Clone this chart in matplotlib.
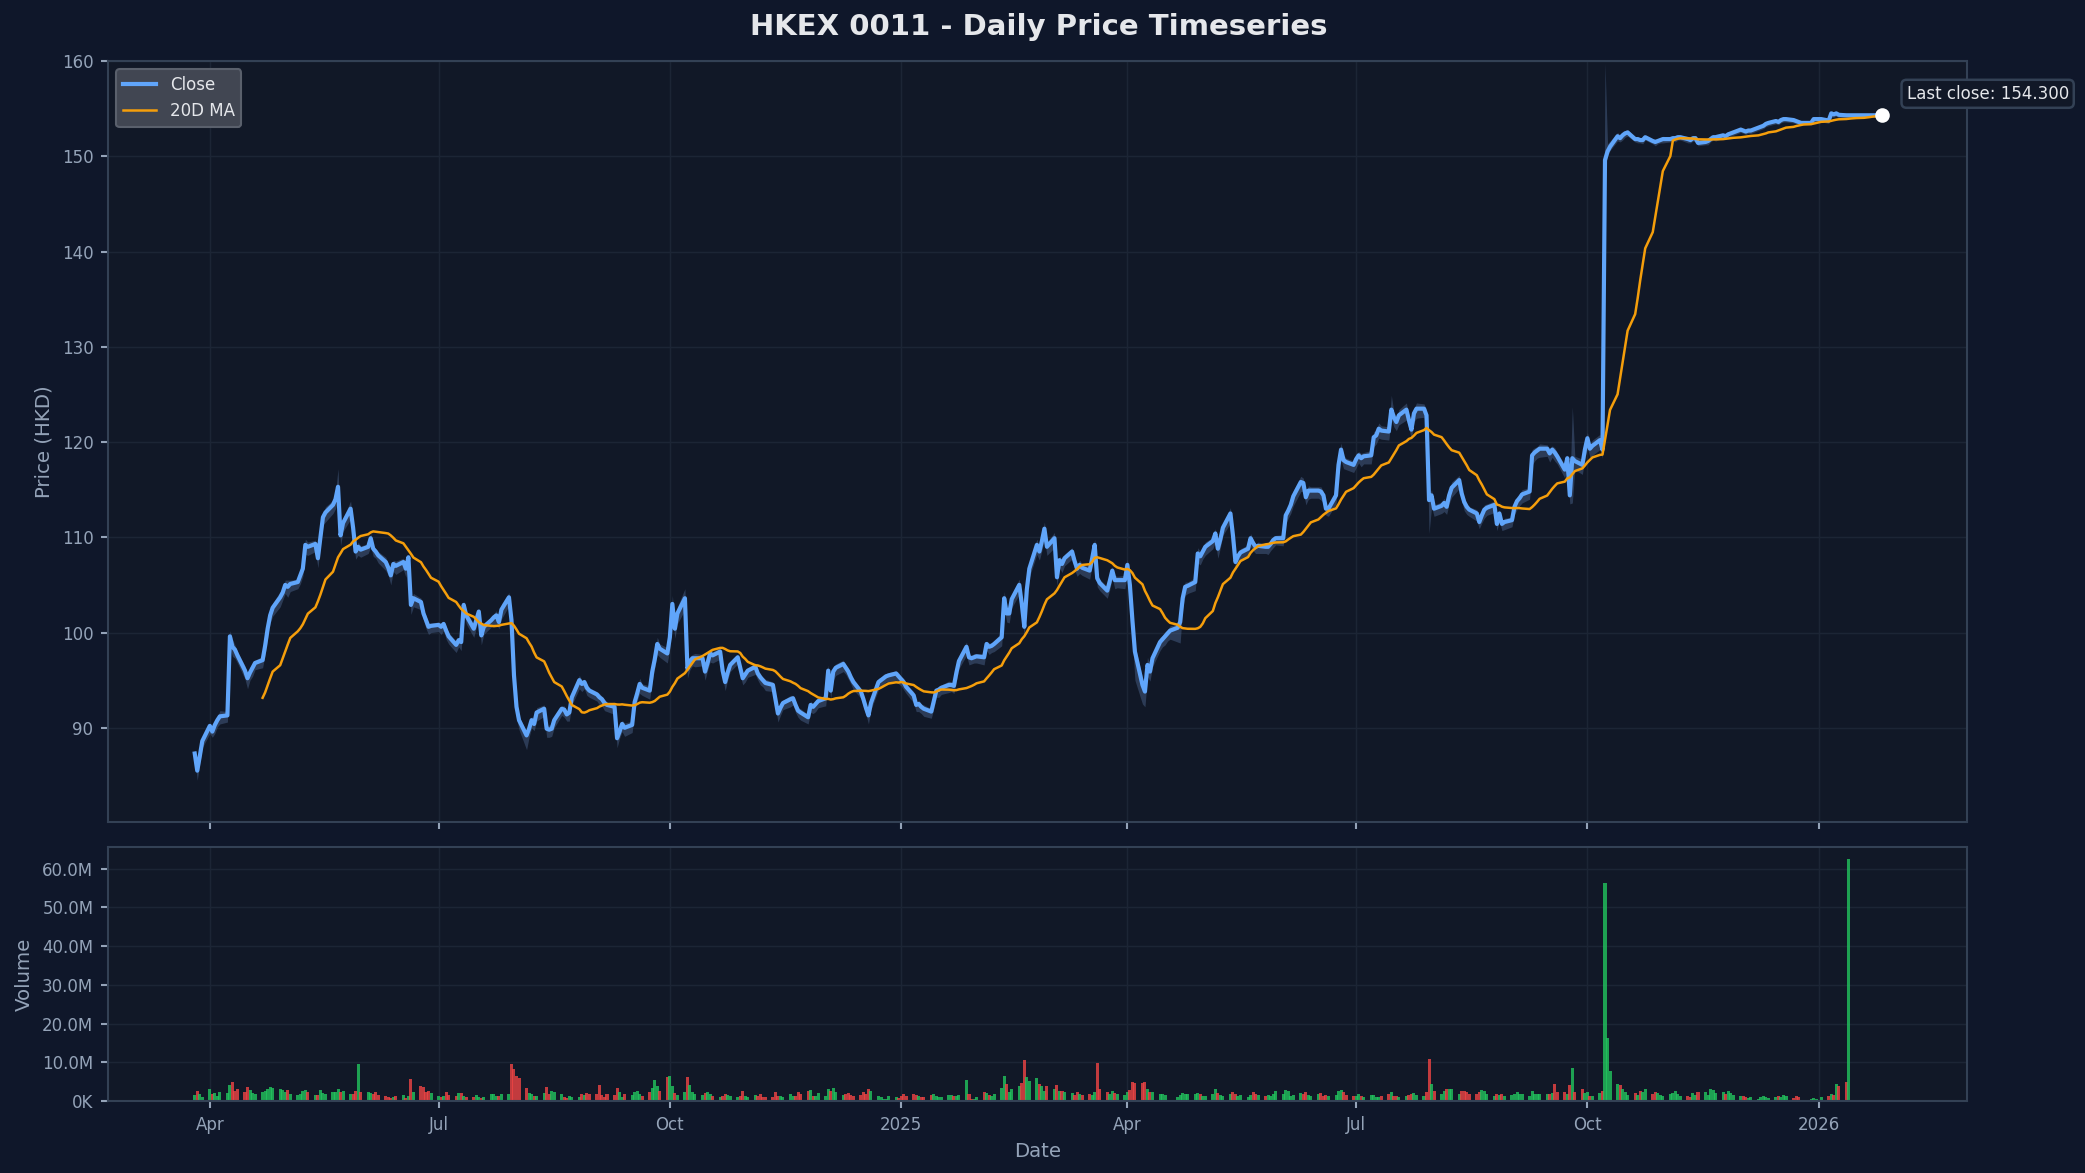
import numpy as np
import pandas as pd
import matplotlib
matplotlib.use("Agg")
import matplotlib.pyplot as plt
import matplotlib.dates as mdates
from matplotlib.ticker import FuncFormatter, MultipleLocator

# daily closes (HKD), one row per week, first trading day 2024-03-26
close = [
    87.3, 85.5, 87.0, 88.6,
    90.2, 89.6, 90.3, 90.8, 91.2,
    91.3, 99.6, 98.5, 98.2, 97.6,
    96.0, 95.2, 95.8, 96.3, 96.8,
    97.1, 98.6, 100.4, 101.8, 102.6,
    103.7, 104.2, 105.0, 104.8, 105.1,
    105.3, 106.0, 106.7, 109.2, 109.0,
    109.3, 107.8, 110.0, 112.1, 112.6,
    113.4, 114.0, 115.3, 110.2, 111.5,
    113.0, 111.0, 108.5, 109.0, 108.7,
    109.0, 109.9, 108.8, 108.5, 108.1,
    107.4, 106.8, 106.0, 107.2, 107.0,
    107.4, 106.7, 107.9, 102.9, 103.6,
    103.2, 102.0, 101.3, 100.6, 100.7,
    100.8, 100.6, 100.9, 100.2, 99.6,
    98.7, 99.2, 99.0, 102.9, 101.8,
    100.4, 101.3, 102.2, 99.7, 100.6,
    101.3, 101.6, 101.8, 101.1, 102.4,
    103.7, 101.3, 95.5, 92.2, 90.8,
    89.2, 89.9, 90.8, 90.4, 91.6,
    92.0, 89.9, 89.8, 89.9, 90.8,
    92.0, 91.9, 91.4, 91.6, 93.2,
    95.0, 94.6, 94.8, 94.2, 93.9,
    93.5, 93.2, 93.0, 92.6, 92.4,
    92.2, 88.9, 89.6, 90.4, 90.0,
    90.3, 92.7, 93.6, 94.6, 94.2,
    93.9, 95.9, 97.2, 98.8, 98.3,
    97.8, 99.5, 103.0, 100.4, 102.0,
    103.6, 96.2, 97.0, 97.3, 97.3,
    97.3, 95.9, 96.8, 97.8, 97.6,
    98.0, 96.0, 94.8, 95.8, 96.6,
    97.4, 96.3, 95.2, 95.6, 96.0,
    96.4, 95.7, 95.3, 95.0, 94.7,
    94.5, 93.0, 91.5, 92.1, 92.6,
    93.0, 93.1, 92.4, 91.8, 91.6,
    91.1, 92.4, 92.2, 92.5, 92.8,
    93.1, 96.0, 93.9, 95.9, 96.3,
    96.7, 96.3, 95.9, 95.3, 94.8,
    93.8, 93.0, 92.1, 91.3, 92.6,
    94.8, 95.0, 95.2, 95.4, 95.5,
    95.7, 95.4, 95.1, 94.8, 94.3,
    93.4, 92.4, 92.5, 92.2, 92.0,
    91.7, 92.8, 93.9, 94.0, 94.2,
    94.5, 94.5, 94.4, 95.8, 97.0,
    98.5, 97.4, 97.3, 97.4, 97.5,
    97.4, 98.8, 98.5, 98.6, 98.8,
    99.5, 103.6, 102.0, 102.0, 103.5,
    105.0, 103.0, 100.6, 104.5, 106.7,
    109.2, 108.5, 109.6, 110.9, 109.0,
    109.9, 105.8, 107.6, 107.2, 107.8,
    108.5, 107.5, 106.7, 107.1, 106.8,
    106.5, 107.8, 109.2, 105.7, 105.2,
    104.4, 105.4, 106.5, 105.5, 105.5,
    105.5, 107.1, 105.0, 101.3, 98.0,
    94.5, 93.8, 96.6, 95.9, 97.3,
    99.0, 99.3, 99.6, 99.9, 100.2,
    100.5, 101.1, 103.6, 104.8, 104.9,
    105.3, 108.3, 108.0, 108.5, 109.0,
    109.6, 110.4, 108.8, 109.8, 111.0,
    112.5, 110.2, 107.4, 108.0, 108.4,
    108.8, 109.9, 109.4, 109.0, 109.1,
    109.0, 109.0, 109.3, 109.7, 109.9,
    109.9, 112.3, 112.8, 113.4, 114.3,
    115.8, 115.7, 114.2, 114.9, 114.9,
    114.9, 114.8, 114.4, 113.0, 113.0,
    114.4, 117.6, 119.2, 118.1, 117.9,
    117.6, 118.2, 118.6, 118.3, 118.5,
    118.6, 120.5, 120.7, 121.4, 121.2,
    121.1, 123.4, 122.6, 122.1, 122.8,
    123.4, 122.3, 121.3, 123.0, 123.5,
    123.5, 122.8, 113.9, 114.4, 113.0,
    113.3, 113.6, 113.2, 114.4, 115.2,
    116.0, 114.6, 113.7, 113.2, 112.9,
    112.5, 111.6, 112.3, 112.9, 113.1,
    113.4, 111.4, 112.5, 111.4, 111.6,
    111.8, 113.2, 113.8, 114.1, 114.5,
    114.8, 118.6, 118.9, 119.1, 119.3,
    119.3, 118.8, 119.2, 118.9, 118.5,
    117.1, 118.3, 114.4, 118.3, 118.0,
    117.6, 119.2, 120.4, 119.3, 119.6,
    120.2, 119.2, 149.6, 150.5, 151.0,
    152.1, 151.9, 152.2, 152.4, 152.5,
    151.8, 151.8, 151.7, 151.7, 152.0,
    151.6, 151.5, 151.6, 151.7, 151.8,
    151.8, 151.9, 151.9, 152.0, 152.0,
    151.8, 151.7, 151.9, 151.9, 151.4,
    151.5, 151.6, 151.8, 152.0, 152.0,
    152.2, 152.1, 152.3, 152.4, 152.5,
    152.8, 152.7, 152.6, 152.7, 152.7,
    153.0, 153.1, 153.2, 153.4, 153.5,
    153.7, 153.6, 153.8, 153.9, 153.9,
    153.8, 153.7, 153.6, 153.5, 153.5,
    153.5, 153.9, 153.9, 153.9, 153.9,
    153.75, 154.5, 154.4, 154.5, 154.35,
    154.3, 154.3, 154.3, 154.3, 154.3,
    154.3, 154.3, 154.3, 154.3, 154.3,
    154.3,
]

# intraday range above / below the close (HKD)
hi_off = [
    0.4, 0.3, 0.5, 0.4,
    0.3, 0.5, 0.4, 0.3, 0.6,
    0.4, 0.6, 0.8, 0.5, 0.4,
    0.5, 0.3, 0.6, 0.4, 0.3,
    0.4, 0.5, 0.6, 0.4, 0.5,
    0.6, 0.4, 0.5, 0.7, 0.4,
    0.3, 0.5, 0.4, 0.6, 0.5,
    0.4, 0.6, 0.5, 0.4, 0.6,
    0.5, 0.7, 1.9, 0.8, 0.5,
    0.8, 0.6, 0.4, 0.5, 0.4,
    0.3, 0.5, 0.4, 0.3, 0.4,
    0.5, 0.4, 0.6, 0.4, 0.5,
    0.4, 0.5, 0.3, 0.6, 0.5,
    0.4, 0.3, 0.5, 0.4, 0.3,
    0.3, 0.4, 0.3, 0.5, 0.4,
    0.4, 0.3, 0.5, 0.4, 0.5,
    0.5, 0.4, 0.3, 0.6, 0.4,
    0.3, 0.4, 0.5, 0.3, 0.6,
    0.5, 0.4, 0.6, 0.5, 0.4,
    0.4, 0.5, 0.4, 0.3, 0.5,
    0.4, 0.3, 0.5, 0.4, 0.4,
    0.3, 0.4, 0.3, 0.5, 0.4,
    0.5, 0.4, 0.3, 0.4, 0.3,
    0.3, 0.4, 0.3, 0.4, 0.3,
    0.4, 0.5, 0.3, 0.4, 0.5,
    0.4, 0.5, 0.4, 0.6, 0.4,
    0.5, 0.6, 0.5, 0.7, 0.5,
    0.6, 0.8, 0.9, 0.6, 0.7,
    1.0, 0.6, 0.5, 0.4, 0.5,
    0.4, 0.5, 0.4, 0.5, 0.4,
    0.4, 0.3, 0.5, 0.4, 0.3,
    0.3, 0.4, 0.3, 0.4, 0.3,
    0.4, 0.3, 0.4, 0.3, 0.4,
    0.3, 0.4, 0.3, 0.4, 0.3,
    0.4, 0.3, 0.4, 0.3, 0.4,
    0.3, 0.4, 0.3, 0.4, 0.3,
    0.4, 0.6, 0.4, 0.5, 0.4,
    0.4, 0.3, 0.4, 0.3, 0.4,
    0.3, 0.4, 0.3, 0.4, 0.3,
    0.4, 0.3, 0.4, 0.3, 0.3,
    0.3, 0.4, 0.3, 0.4, 0.3,
    0.4, 0.3, 0.4, 0.3, 0.4,
    0.3, 0.4, 0.3, 0.4, 0.3,
    0.4, 0.3, 0.4, 0.5, 0.4,
    0.5, 0.4, 0.3, 0.4, 0.3,
    0.4, 0.3, 0.4, 0.3, 0.4,
    0.5, 0.7, 0.5, 0.6, 0.5,
    0.6, 0.5, 0.7, 0.6, 0.5,
    0.6, 0.5, 0.6, 0.7, 0.5,
    0.6, 0.5, 0.4, 0.5, 0.4,
    0.4, 0.5, 0.4, 0.5, 0.4,
    0.5, 0.4, 0.6, 0.5, 0.4,
    0.4, 0.5, 0.4, 0.5, 0.4,
    0.5, 0.6, 0.5, 0.6, 0.7,
    0.8, 0.7, 0.8, 0.6, 0.5,
    0.5, 0.4, 0.5, 0.4, 0.5,
    0.4, 0.5, 0.6, 0.5, 0.4,
    0.5, 0.6, 0.5, 0.4, 0.5,
    0.4, 0.5, 0.6, 0.5, 0.4,
    0.6, 0.5, 0.4, 0.5, 0.4,
    0.4, 0.5, 0.4, 0.3, 0.4,
    0.3, 0.4, 0.3, 0.4, 0.3,
    0.4, 0.5, 0.4, 0.5, 0.6,
    0.6, 0.5, 0.4, 0.5, 0.4,
    0.4, 0.5, 0.4, 0.3, 0.4,
    0.5, 0.6, 0.7, 0.5, 0.4,
    0.4, 0.5, 0.4, 0.5, 0.4,
    0.5, 0.6, 0.5, 0.6, 0.5,
    0.5, 1.5, 0.6, 0.5, 0.6,
    0.7, 0.5, 0.6, 0.5, 0.6,
    0.5, 0.6, 0.5, 0.6, 0.4,
    0.4, 0.5, 0.4, 0.5, 0.6,
    0.5, 0.4, 0.5, 0.4, 0.3,
    0.4, 0.3, 0.4, 0.5, 0.4,
    0.4, 0.3, 0.4, 0.3, 0.4,
    0.3, 0.4, 0.5, 0.4, 0.5,
    0.4, 0.6, 0.5, 0.4, 0.5,
    0.4, 0.5, 0.4, 0.5, 0.4,
    0.5, 0.4, 0.6, 5.4, 0.5,
    0.6, 0.5, 0.6, 0.5, 0.6,
    0.6, 0.5, 10.2, 0.8, 0.6,
    0.4, 0.3, 0.4, 0.3, 0.3,
    0.2, 0.3, 0.2, 0.3, 0.2,
    0.2, 0.3, 0.2, 0.2, 0.3,
    0.2, 0.2, 0.3, 0.2, 0.2,
    0.3, 0.2, 0.2, 0.3, 0.2,
    0.2, 0.3, 0.2, 0.2, 0.3,
    0.2, 0.2, 0.3, 0.2, 0.2,
    0.2, 0.2, 0.2, 0.2, 0.2,
    0.2, 0.2, 0.2, 0.2, 0.2,
    0.2, 0.2, 0.2, 0.2, 0.2,
    0.2, 0.2, 0.2, 0.1, 0.1,
    0.1, 0.2, 0.1, 0.1, 0.2,
    0.2, 0.3, 0.2, 0.2, 0.2,
    0.2, 0.2, 0.0, 0.0, 0.0,
    0.0, 0.0, 0.0, 0.0, 0.0,
    0.0,
]

lo_off = [
    0.6, 1.0, 0.8, 0.7,
    0.8, 0.6, 0.9, 0.7, 0.8,
    0.7, 1.2, 1.0, 0.9, 0.8,
    0.9, 1.1, 0.8, 0.9, 0.7,
    0.8, 0.9, 1.0, 0.8, 0.9,
    1.0, 0.8, 0.9, 1.1, 0.8,
    0.7, 0.9, 0.8, 1.0, 0.9,
    0.8, 1.0, 0.9, 0.8, 1.0,
    0.9, 1.0, 1.2, 1.1, 0.9,
    1.1, 1.0, 0.8, 0.9, 0.8,
    0.7, 0.9, 0.8, 0.7, 0.8,
    0.9, 0.8, 1.0, 0.8, 0.9,
    0.8, 0.9, 0.7, 1.0, 0.9,
    0.8, 0.7, 0.9, 0.8, 0.7,
    0.7, 0.8, 0.7, 0.9, 0.8,
    0.8, 0.7, 0.9, 0.8, 0.9,
    0.9, 0.8, 0.7, 1.0, 0.8,
    0.7, 0.8, 0.9, 0.7, 1.0,
    0.9, 0.8, 1.5, 1.2, 1.0,
    1.5, 0.9, 0.8, 0.7, 0.9,
    0.8, 0.9, 0.8, 0.8, 0.8,
    0.7, 0.8, 0.7, 0.9, 0.8,
    0.9, 0.8, 0.7, 0.8, 0.7,
    0.7, 0.8, 0.7, 0.8, 0.7,
    0.8, 1.0, 0.7, 0.8, 0.9,
    0.8, 0.9, 0.8, 1.0, 0.8,
    0.9, 1.0, 0.9, 1.1, 0.9,
    1.0, 1.2, 1.3, 1.0, 1.1,
    1.2, 1.0, 0.9, 0.8, 0.9,
    0.8, 0.9, 0.8, 0.9, 0.8,
    0.8, 0.7, 0.9, 0.8, 0.7,
    0.7, 0.8, 0.7, 0.8, 0.7,
    0.8, 0.7, 0.8, 0.7, 0.8,
    0.7, 0.8, 0.9, 0.8, 0.7,
    0.8, 0.7, 0.8, 0.7, 0.8,
    0.7, 0.8, 0.7, 0.8, 0.7,
    0.8, 1.0, 0.8, 0.9, 0.8,
    0.8, 0.7, 0.8, 0.7, 0.8,
    0.7, 0.8, 0.7, 0.9, 0.7,
    0.8, 0.7, 0.6, 0.6, 0.7,
    0.7, 0.8, 0.7, 0.8, 0.7,
    0.8, 0.7, 0.8, 0.7, 0.8,
    0.7, 0.8, 0.7, 0.8, 0.7,
    0.8, 0.7, 0.8, 0.9, 0.8,
    0.9, 0.8, 0.6, 0.6, 0.7,
    0.8, 0.7, 0.8, 0.7, 0.8,
    0.9, 1.1, 0.9, 1.0, 0.9,
    1.0, 0.9, 1.1, 1.0, 0.9,
    1.0, 0.9, 1.0, 1.1, 0.9,
    1.0, 0.9, 0.8, 0.9, 0.8,
    0.8, 0.9, 0.8, 0.9, 0.8,
    0.9, 0.8, 1.0, 0.9, 0.8,
    0.8, 0.9, 0.8, 0.9, 0.8,
    0.9, 1.0, 1.4, 2.0, 3.0,
    2.0, 1.6, 1.2, 1.0, 0.9,
    0.9, 0.8, 0.9, 0.8, 0.9,
    1.5, 2.2, 1.0, 0.9, 0.8,
    0.9, 1.0, 0.9, 0.8, 0.9,
    0.8, 0.9, 1.0, 0.9, 0.8,
    1.0, 0.9, 0.8, 0.9, 0.8,
    0.8, 0.9, 0.8, 0.7, 0.8,
    0.7, 0.8, 0.7, 0.8, 0.7,
    0.8, 0.9, 0.8, 0.9, 1.0,
    1.0, 0.9, 0.8, 0.9, 0.8,
    0.8, 0.9, 0.8, 0.7, 0.8,
    0.9, 1.0, 1.1, 0.9, 0.8,
    0.8, 0.9, 0.8, 0.9, 0.8,
    0.9, 1.0, 0.9, 1.0, 0.9,
    0.9, 1.0, 1.0, 0.9, 1.0,
    1.1, 0.9, 1.0, 0.9, 1.0,
    0.9, 1.0, 3.5, 1.2, 0.8,
    0.8, 0.9, 0.8, 0.9, 1.0,
    0.9, 0.8, 0.9, 0.8, 0.7,
    0.8, 0.7, 0.8, 0.9, 0.8,
    0.8, 0.7, 0.8, 0.7, 0.8,
    0.7, 0.8, 0.9, 0.8, 0.9,
    0.8, 1.0, 0.9, 0.8, 0.9,
    0.8, 0.9, 0.8, 0.9, 0.8,
    0.9, 0.8, 0.9, 4.7, 0.9,
    1.0, 0.9, 1.0, 0.9, 1.0,
    1.0, 0.9, 0.8, 0.5, 0.4,
    0.5, 0.4, 0.5, 0.4, 0.4,
    0.3, 0.4, 0.3, 0.4, 0.3,
    0.3, 0.4, 0.3, 0.3, 0.4,
    0.3, 0.3, 0.4, 0.3, 0.3,
    0.4, 0.3, 0.3, 0.4, 0.3,
    0.3, 0.4, 0.3, 0.3, 0.4,
    0.3, 0.3, 0.4, 0.3, 0.3,
    0.3, 0.3, 0.3, 0.3, 0.3,
    0.3, 0.3, 0.3, 0.3, 0.3,
    0.3, 0.3, 0.3, 0.3, 0.3,
    0.3, 0.3, 0.2, 0.2, 0.2,
    0.2, 0.3, 0.2, 0.2, 0.3,
    0.3, 0.4, 0.3, 0.3, 0.3,
    0.3, 0.3, 0.0, 0.0, 0.0,
    0.0, 0.0, 0.0, 0.0, 0.0,
    0.0,
]

# daily volume, millions of shares
volume_m = [
    1.5, 2.6, 1.9, 1.1,
    3.1, 1.8, 2.0, 1.4, 2.2,
    2.0, 4.2, 5.0, 2.6, 3.1,
    2.4, 3.6, 2.8, 2.0, 1.8,
    2.4, 2.6, 3.2, 3.5, 3.3,
    3.2, 2.9, 2.4, 2.8, 1.8,
    1.6, 1.8, 2.6, 2.8, 2.3,
    1.6, 1.5, 2.9, 2.1, 1.8,
    2.4, 2.2, 3.1, 2.4, 2.6,
    1.8, 1.9, 2.6, 9.5, 2.3,
    2.2, 2.0, 1.9, 2.3, 1.6,
    1.4, 1.1, 0.8, 1.0, 1.3,
    1.5, 0.8, 1.2, 5.7, 2.2,
    3.9, 3.6, 2.4, 2.6, 2.1,
    1.3, 1.0, 1.2, 2.2, 1.6,
    1.2, 2.0, 2.0, 1.4, 1.0,
    0.9, 1.6, 1.0, 0.8, 0.9,
    1.8, 1.7, 1.4, 1.2, 1.8,
    1.8, 9.5, 8.2, 6.5, 5.9,
    3.4, 2.0, 1.8, 1.4, 1.3,
    2.1, 3.6, 1.8, 2.6, 2.4,
    1.8, 1.0, 0.8, 1.2, 1.0,
    0.9, 1.7, 1.5, 2.0, 1.7,
    1.8, 4.0, 1.5, 0.9, 1.8,
    1.6, 3.4, 2.2, 1.0, 1.8,
    1.6, 2.3, 2.5, 1.9, 1.4,
    2.2, 3.4, 5.5, 3.9, 2.6,
    6.3, 6.5, 3.9, 2.0, 1.6,
    2.3, 6.2, 4.2, 2.2, 1.7,
    1.5, 2.0, 2.4, 1.8, 1.4,
    1.0, 1.4, 1.9, 1.6, 1.2,
    1.0, 1.3, 2.6, 1.3, 1.0,
    1.5, 1.2, 1.9, 1.1, 0.9,
    1.0, 2.4, 1.4, 1.2, 1.0,
    1.7, 1.4, 1.2, 2.2, 1.8,
    2.7, 2.9, 1.3, 1.2, 2.1,
    1.4, 3.0, 2.6, 3.3, 2.2,
    1.6, 1.8, 2.0, 1.5, 1.4,
    1.6, 2.4, 1.9, 3.2, 2.6,
    1.4, 1.0, 0.6, 0.6, 1.2,
    1.0, 0.8, 1.3, 1.7, 1.2,
    1.8, 1.6, 1.3, 1.1, 1.0,
    1.6, 1.9, 1.3, 1.1, 1.0,
    1.5, 1.6, 1.2, 1.4, 1.5,
    5.5, 1.8, 0.5, 0.5, 1.0,
    2.2, 2.0, 1.6, 1.2, 1.9,
    3.4, 6.5, 4.4, 2.4, 3.2,
    3.8, 4.6, 10.5, 6.2, 5.2,
    6.0, 4.5, 3.8, 2.6, 3.9,
    3.2, 4.0, 2.7, 2.5, 2.2,
    2.0, 1.6, 2.4, 1.8, 1.6,
    1.7, 1.5, 2.3, 9.8, 3.0,
    2.2, 1.9, 2.5, 2.0, 1.8,
    1.6, 2.2, 2.9, 4.9, 4.7,
    4.6, 5.0, 3.0, 2.4, 2.2,
    1.9, 1.8, 1.6, 0.3, 0.3,
    1.0, 1.5, 2.1, 1.8, 1.9,
    1.9, 2.0, 1.8, 1.2, 1.3,
    1.7, 3.2, 2.1, 1.6, 1.3,
    1.8, 2.4, 1.9, 1.4, 1.6,
    1.0, 1.5, 2.4, 1.8, 1.6,
    1.4, 1.6, 1.3, 1.9, 2.6,
    1.7, 2.9, 2.6, 1.4, 1.5,
    2.0, 1.7, 2.2, 1.5, 1.3,
    1.8, 2.1, 1.2, 1.5, 1.2,
    1.6, 2.5, 2.8, 2.2, 1.6,
    1.4, 1.2, 1.8, 1.3, 1.0,
    1.6, 1.5, 1.1, 1.0, 1.4,
    1.7, 2.2, 1.4, 1.2, 1.0,
    1.3, 1.6, 1.8, 2.0, 1.5,
    1.4, 2.2, 10.8, 4.4, 2.6,
    1.8, 2.6, 3.0, 3.2, 3.1,
    1.8, 2.6, 2.5, 2.3, 1.9,
    1.7, 2.2, 2.9, 2.6, 1.8,
    1.2, 1.9, 1.6, 1.8, 1.4,
    1.5, 1.8, 2.2, 1.8, 1.7,
    1.2, 2.6, 1.9, 1.7, 1.9,
    1.8, 1.9, 2.0, 4.5, 2.4,
    2.2, 1.8, 4.0, 8.5, 2.4,
    3.0, 2.0, 2.4, 1.3, 1.4,
    2.0, 2.6, 56.2, 16.2, 7.8,
    4.4, 4.1, 3.0, 2.4, 1.6,
    2.0, 1.6, 2.6, 2.2, 3.2,
    1.8, 2.4, 2.0, 1.6, 1.3,
    1.8, 2.0, 2.6, 1.7, 1.4,
    1.3, 1.1, 2.0, 1.5, 2.4,
    2.2, 1.6, 3.2, 2.8, 2.0,
    2.2, 1.8, 2.6, 2.1, 1.6,
    1.2, 1.4, 1.1, 0.8, 1.0,
    0.6, 1.0, 1.2, 1.1, 0.8,
    1.1, 1.3, 1.0, 1.6, 1.2,
    0.8, 1.2, 0.9, 0.3, 0.2,
    0.6, 0.7, 0.5, 0.3, 0.9,
    1.2, 1.9, 1.6, 4.4, 3.8,
    5.0, 62.5, 0, 0, 0,
    0, 0, 0, 0, 0,
    0,
]

assert len(close) == len(hi_off) == len(lo_off) == len(volume_m), (
    len(close), len(hi_off), len(lo_off), len(volume_m))

dates = pd.bdate_range("2024-03-26", periods=len(close))
df = pd.DataFrame({"close": close, "hi": hi_off, "lo": lo_off, "vol": volume_m}, index=dates)
df["high"] = df["close"] + df["hi"]
df["low"] = df["close"] - df["lo"]
df["volume"] = df["vol"] * 1e6
df["ma20"] = df["close"].rolling(20).mean()

FIG_BG = "#0f172a"
AX_BG = "#111827"
SPINE = "#334155"
GRID = "#1c2535"
MUTED = "#94a3b8"
TEXT = "#e5e7eb"

fig, (ax, axv) = plt.subplots(
    2, 1, sharex=True, figsize=(13.9, 7.82), dpi=150,
    gridspec_kw={"height_ratios": [761, 254]},
)
fig.patch.set_facecolor(FIG_BG)
fig.subplots_adjust(left=0.0518, right=0.9434, top=0.948, bottom=0.0614, hspace=0.049)

for a in (ax, axv):
    a.set_facecolor(AX_BG)
    for s in a.spines.values():
        s.set_color(SPINE)
        s.set_linewidth(1.0)
    a.tick_params(colors=MUTED, labelsize=8, length=3.5, width=1)
    a.grid(True, color=GRID, linewidth=0.7)
    a.set_axisbelow(True)

# price panel
ax.fill_between(df.index, df["low"], df["high"], color="#6b8fc4", alpha=0.3, linewidth=0)
ax.plot(df.index, df["close"], color="#60a5fa", linewidth=2.0, label="Close", zorder=3)
ax.plot(df.index, df["ma20"], color="#f59e0b", linewidth=1.2, label="20D MA", zorder=4)

last_d = df.index[-1]
last_c = df["close"].iloc[-1]
ax.plot([last_d], [last_c], marker="o", markersize=6, color="white", zorder=6)
ax.annotate(
    f"Last close: {last_c:.3f}", xy=(last_d, last_c), xytext=(12, 6),
    textcoords="offset points", ha="left", va="bottom", fontsize=8, color=TEXT,
    bbox=dict(boxstyle="round,pad=0.3", facecolor=AX_BG, edgecolor=SPINE, linewidth=1.2),
    annotation_clip=False,
)

ax.set_ylim(80.1, 160.0)
ax.yaxis.set_major_locator(MultipleLocator(10))
ax.set_ylabel("Price (HKD)", color=MUTED, fontsize=9.5)
ax.legend(loc="upper left", fontsize=8, facecolor="#414652", edgecolor="#5a606c",
          framealpha=1.0, labelcolor=TEXT)

# volume panel
up = df["close"].diff().fillna(0) >= 0
colors = np.where(up, "#22c55e", "#ef4444")
axv.bar(df.index, df["volume"], width=1.2, color=colors, alpha=0.8, linewidth=0)
axv.yaxis.set_major_locator(MultipleLocator(10e6))
axv.yaxis.set_major_formatter(
    FuncFormatter(lambda v, p: f"{v / 1e6:.1f}M" if v >= 1e6 else f"{v / 1e3:.0f}K"))
axv.set_ylabel("Volume", color=MUTED, fontsize=9.5)
axv.set_xlabel("Date", color=MUTED, fontsize=9.5)

axv.xaxis.set_major_locator(mdates.MonthLocator(bymonth=[1, 4, 7, 10]))


def fmt_date(x, pos):
    d = mdates.num2date(x)
    return str(d.year) if d.month == 1 else d.strftime("%b")


axv.xaxis.set_major_formatter(FuncFormatter(fmt_date))
axv.set_xlim(pd.Timestamp("2024-02-20 12:00"), pd.Timestamp("2026-03-01"))

fig.suptitle("HKEX 0011 - Daily Price Timeseries", x=0.498, y=0.977, va="center",
             fontsize=14, fontweight="bold", color=TEXT)

fig.savefig("out.png", dpi=150, facecolor=FIG_BG)
